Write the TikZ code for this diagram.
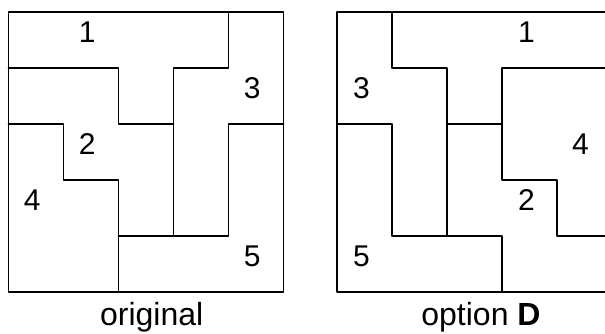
\documentclass[tikz,border=0pt]{standalone}
\usepackage{fontspec}
\setmainfont{Liberation Sans}
\begin{document}
\begin{tikzpicture}[x=1pt,y=-1pt,line join=round,line cap=round,font=\fontsize{30}{36}\selectfont]
	\useasboundingbox (0,0) rectangle (605,334);
	\clip (0,0) rectangle (605,334);
	\tikzset{num/.style={inner sep=0pt,anchor=center},
		caption/.style={anchor=base,inner sep=0pt,font=\fontsize{32}{38}\selectfont}}
	% original
	\begin{scope}[shift={(8.5,11.7)},x=55pt,y=-56pt,line width=1.8pt]
		\draw (0,0) rectangle (5,5);
		\draw (0,1) -- (2,1) -- (2,2) -- (3,2);
		\draw (4,0) -- (4,1) -- (3,1) -- (3,4);
		\draw (0,2) -- (1,2) -- (1,3) -- (2,3) -- (2,5);
		\draw (2,4) -- (4,4) -- (4,2) -- (5,2);
		\node[num] (a1) at (1.43,0.37) {1};
		\node[num] (a3) at (4.43,1.37) {3};
		\node[num] (a2) at (1.43,2.37) {2};
		\node[num] (a4) at (0.43,3.37) {4};
		\node[num] (a5) at (4.43,4.37) {5};
	\end{scope}
	% option D
	\begin{scope}[shift={(336.7,11.7)},x=55pt,y=-56pt,line width=1.8pt]
		\draw (0,0) rectangle (5,5);
		\draw (1,0) -- (1,1) -- (2,1) -- (2,4);
		\draw (0,2) -- (1,2) -- (1,4) -- (3,4) -- (3,5);
		\draw (2,2) -- (3,2);
		\draw (5,1) -- (3,1) -- (3,3) -- (4,3) -- (4,4) -- (5,4);
		\node[num] (b1) at (3.45,0.37) {1};
		\node[num] (b3) at (0.45,1.37) {3};
		\node[num] (b4) at (4.43,2.37) {4};
		\node[num] (b2) at (3.45,3.37) {2};
		\node[num] (b5) at (0.45,4.37) {5};
	\end{scope}
	\node[caption] (capa) at (151.7,325) {original};
	\node[caption] (capb) at (481,325) {option \textbf{D}};
\end{tikzpicture}
\end{document}
